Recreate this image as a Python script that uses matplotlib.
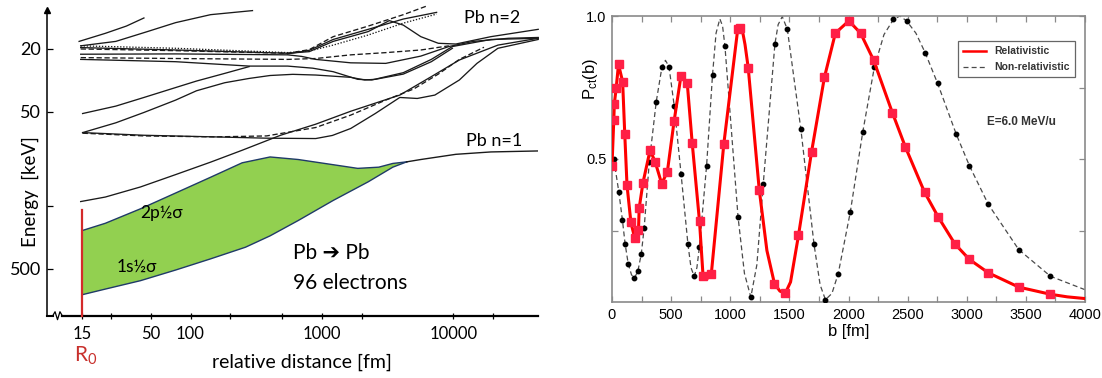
import numpy as np
import matplotlib
matplotlib.use("Agg")
import matplotlib.pyplot as plt
from matplotlib.lines import Line2D
from matplotlib.ticker import FixedLocator, NullLocator, MultipleLocator

plt.rcParams['font.family'] = ['Liberation Sans', 'DejaVu Sans']
plt.rcParams['mathtext.default'] = 'regular'
LEFT_FONT = ['Lato', 'DejaVu Sans']

# ---------------- left panel: Pb -> Pb correlation diagram ----------------
# distance in fm, binding energy in keV
green_top_fm  = [15, 22.5, 41.6, 77, 142, 247, 403, 659, 1217, 1871, 2704, 3458, 4416]
green_top_kev = [286, 257, 208, 165, 131, 106, 97.3, 101, 109, 115, 113, 107, 104.5]
green_bot_fm  = [15, 22.5, 41.6, 77, 142, 262, 403, 659, 1217, 2249, 3458, 4416]
green_bot_kev = [732, 674, 596, 510, 433, 365, 309, 247, 184, 140, 113, 104.5]
n1_fm  = [4416, 5649, 10440, 19280, 44160]
n1_kev = [104.5, 101, 93.6, 90.4, 89.1]

t1_fm,  t1_kev  = [14.2, 22.5, 32.5, 44.2], [17.9, 15.9, 14.3, 12.7]
t2_fm,  t2_kev  = [14.6, 27.0, 47.0, 77, 142, 296], [19.1, 17.9, 15.5, 13.6, 12.1, 11.4]
u1_fm,  u1_kev  = [14.6, 77, 548, 800, 1217, 2249, 4156, 7447], [19.1, 19.8, 21.1, 20.6, 18.9, 16.3, 13.7, 12.0]
u2_fm  = [14.6, 77, 548, 800, 1217, 2249, 3251, 4156, 5649, 7674, 10440, 19280, 44160]
u2_kev = [19.6, 20.3, 21.3, 20.8, 17.9, 15.5, 13.2, 14.1, 16.7, 18.4, 18.6, 16.7, 15.0]
u3_fm,  u3_kev  = [14.6, 77, 548, 800, 1217, 2249, 4156, 6383], [20.0, 20.5, 21.3, 20.2, 16.7, 14.3, 12.1, 10.6]
u4_fm,  u4_kev  = [548, 800, 1217, 2249, 4156, 7447], [21.5, 20.4, 17.4, 15.0, 12.9, 11.7]
u5_fm  = [14.6, 77, 548, 700, 896, 1655, 3055, 5649, 9230, 14190, 26220, 44160]
u5_kev = [21.6, 21.5, 21.8, 22.3, 23.3, 24.5, 24.7, 22.2, 19.3, 17.9, 17.1, 16.9]
u6_fm  = [14.6, 77, 548, 896, 1655, 3055, 5649, 9230]
u6_kev = [22.7, 23.0, 23.3, 23.0, 21.8, 21.1, 20.3, 19.1]
u7_fm  = [14.6, 77, 279, 548, 850, 1217, 1871, 2392, 4156, 6790, 9820, 19280, 44160]
u7_kev = [23.3, 24.1, 25.7, 25.7, 26.5, 27.9, 31.2, 31.5, 28.3, 23.3, 19.3, 17.4, 17.1]
l1_fm,  l1_kev  = [15.1, 27.0, 44.2, 77, 111, 182, 279], [51.5, 46.2, 40.7, 35.2, 32.0, 28.6, 25.9]
b_fm   = [15.1, 27.0, 44.2, 77, 111, 182, 279, 403, 600, 896, 1655, 2115, 2543, 4156, 6790, 9820]
b_kev  = [68.1, 59.0, 50.7, 42.3, 36.9, 32.8, 30.8, 29.5, 29.0, 29.3, 30.3, 31.5, 31.2, 28.9, 24.1, 19.8]
c_fm   = [15.1, 44.2, 151, 379, 896, 1200, 1655, 2543, 3908, 5309, 7220, 11100, 15100, 21800, 44160]
c_kev  = [68.1, 70.8, 72.5, 73.9, 74.3, 71.0, 64.1, 51.5, 40.7, 41.3, 39.3, 31.5, 24.7, 19.8, 17.4]
cd_fm  = [15.1, 44.2, 151, 379, 896, 1655, 3055, 5000, 7674, 11100, 17070]
cd_kev = [68.7, 71.5, 72.5, 71.5, 63.2, 52.7, 42.3, 35.9, 28.9, 23.3, 19.5]
g2_fm  = [14.6, 22.5, 41.6, 77, 142, 247, 484, 896, 1655, 3908, 6790, 11100, 21800, 44160]
g2_kev = [187, 175, 151, 126, 105, 88.2, 70.8, 60.2, 49.8, 39.3, 30.0, 23.5, 18.9, 17.1]

x_tick_fm = [15, 25, 50, 100, 200, 500, 1000, 2000, 10000, 20000]
x_tick_lab = ['15', '', '50', '100', '', '', '1000', '', '10000', '']
y_tick_kev = [20, 50, 200, 500]
y_tick_lab = ['20', '50', '', '500']

# ---------------- right panel: charge transfer probability ----------------
rel_b_sq = [0, 15, 20, 35, 55, 90, 108, 127, 160, 192, 224, 230, 262, 322, 365, 420, 468,
            525, 583, 636, 678, 740, 770, 840, 946, 1063, 1085, 1152, 1245, 1374, 1466,
            1577, 1688, 1796, 1889, 2003, 2102, 2213, 2371, 2482, 2643, 2759, 2900, 3022,
            3183, 3440, 3708]
rel_p_sq = [0.476, 0.636, 0.694, 0.747, 0.831, 0.770, 0.586, 0.408, 0.278, 0.224, 0.253,
            0.329, 0.417, 0.531, 0.490, 0.414, 0.455, 0.632, 0.790, 0.767, 0.557, 0.282,
            0.091, 0.099, 0.554, 0.953, 0.957, 0.819, 0.393, 0.064, 0.031, 0.233, 0.526,
            0.785, 0.940, 0.983, 0.940, 0.845, 0.662, 0.541, 0.384, 0.297, 0.203, 0.149,
            0.102, 0.052, 0.027]
rel_b_extra = [805, 1100, 1125, 1310, 1420, 1510, 3850, 4000]
rel_p_extra = [0.082, 0.955, 0.900, 0.180, 0.038, 0.070, 0.018, 0.012]

nrel_b_dot = [15, 58, 88, 111, 137, 190, 219, 248, 272, 315, 374, 423, 482, 526, 584, 642,
              695, 739, 800, 850, 955, 1066, 1174, 1279, 1378, 1483, 1597, 1708, 1805, 1913,
              2015, 2120, 2219, 2380, 2491, 2648, 2754, 2911, 3022, 3183, 3440, 3708]
nrel_p_dot = [0.500, 0.384, 0.287, 0.203, 0.134, 0.084, 0.108, 0.169, 0.259, 0.488, 0.700,
              0.823, 0.823, 0.686, 0.448, 0.203, 0.090, 0.192, 0.477, 0.794, 0.895, 0.297,
              0.017, 0.413, 0.903, 0.953, 0.605, 0.203, 0.008, 0.099, 0.314, 0.593, 0.822,
              0.988, 0.983, 0.872, 0.764, 0.587, 0.477, 0.341, 0.183, 0.090]
nrel_b_extra = [165, 452, 668, 718, 880, 912, 935, 1120, 1225, 1405, 1440, 1760, 1860,
                2300, 2435, 2570, 4000]
nrel_p_extra = [0.095, 0.845, 0.120, 0.120, 0.940, 0.990, 0.965, 0.100, 0.130, 0.970,
                0.998, 0.060, 0.030, 0.935, 1.000, 0.940, 0.043]


def merged(b1, p1, b2, p2):
    b = np.array(b1 + b2, dtype=float)
    p = np.array(p1 + p2, dtype=float)
    order = np.argsort(b, kind='stable')
    return b[order], p[order]


W, H = 1102, 378


def px_box(x0, y0, x1, y1):
    return [x0 / W, 1 - y1 / H, (x1 - x0) / W, (y1 - y0) / H]


fig = plt.figure(figsize=(W / 100, H / 100), dpi=100)
fig.patch.set_facecolor('white')

# ======================= left =======================
axl = fig.add_axes(px_box(46.7, 10, 538, 316))
axl.set_xscale('log')
axl.set_yscale('log')
axl.set_xlim(8.05, 44000)
axl.set_ylim(1000, 11.3)
for s in ['top', 'right', 'bottom']:
    axl.spines[s].set_visible(False)
axl.spines['left'].set_linewidth(1.1)

axl.xaxis.set_major_locator(FixedLocator(x_tick_fm))
axl.xaxis.set_minor_locator(NullLocator())
axl.set_xticklabels(x_tick_lab)
axl.yaxis.set_major_locator(FixedLocator(y_tick_kev))
axl.yaxis.set_minor_locator(NullLocator())
axl.set_yticklabels(y_tick_lab)
axl.tick_params(axis='x', direction='inout', length=5, width=0.9, pad=5, labelsize=12)
axl.tick_params(axis='y', direction='in', length=4, width=0.9, pad=4, labelsize=13)
for lbl in axl.get_xticklabels() + axl.get_yticklabels():
    lbl.set_fontfamily(LEFT_FONT)

# bottom axis with a break near the origin, arrow on the energy axis
axl.plot([0, 0.012], [0, 0], transform=axl.transAxes, color='k', lw=1.5, clip_on=False)
axl.plot([0.012, 0.017, 0.022, 0.027, 0.032], [0, 0.014, -0.012, 0.014, 0],
         transform=axl.transAxes, color='k', lw=0.9, clip_on=False)
axl.plot([0.032, 1], [0, 0], transform=axl.transAxes, color='k', lw=1.6, clip_on=False)
axl.plot([0], [1], marker='^', ms=4.5, color='k', transform=axl.transAxes, clip_on=False)

# green region between 1s1/2 sigma and 2p1/2 sigma
axl.fill(green_top_fm + green_bot_fm[::-1], green_top_kev + green_bot_kev[::-1],
         color='#92d050', lw=0, zorder=1)
axl.plot(green_top_fm, green_top_kev, color='#1f3a68', lw=1.0, zorder=3)
axl.plot(green_bot_fm, green_bot_kev, color='#1f3a68', lw=1.0, zorder=3)
axl.plot(n1_fm, n1_kev, color='#1a1a1a', lw=1.0, zorder=3)
axl.plot([15, 15], [213, 1000], color='#d42a2a', lw=1.6, zorder=4, clip_on=False)

solid = '-'
dashed = (0, (4, 2))
dotted = (0, (1, 1.3))
levels = [
    (t1_fm, t1_kev, solid), (t2_fm, t2_kev, solid), (u1_fm, u1_kev, dotted),
    (u2_fm, u2_kev, solid), (u3_fm, u3_kev, dashed), (u4_fm, u4_kev, solid),
    (u5_fm, u5_kev, solid), (u6_fm, u6_kev, dashed), (u7_fm, u7_kev, solid),
    (l1_fm, l1_kev, solid), (b_fm, b_kev, solid), (c_fm, c_kev, solid),
    (cd_fm, cd_kev, dashed), (g2_fm, g2_kev, solid),
]
for xs, ys, ls in levels:
    axl.plot(xs, ys, color='#1a1a1a', lw=0.95, ls=ls, clip_on=False, zorder=2,
             solid_joinstyle='round')

axl.text(60.7, 221, '2p½σ', fontsize=12.5, family=LEFT_FONT, ha='center', va='center')
axl.text(39.2, 488, '1s½σ', fontsize=12.5, family=LEFT_FONT, ha='center', va='center')
axl.text(601, 397, 'Pb ➔ Pb', fontsize=15, family=LEFT_FONT, ha='left', va='center')
axl.text(601, 617, '96 electrons', fontsize=15, family=LEFT_FONT, ha='left', va='center')
axl.text(19630, 12.7, 'Pb n=2', fontsize=13, family=LEFT_FONT, ha='center', va='center')
axl.text(20300, 76.9, 'Pb n=1', fontsize=13, family=LEFT_FONT, ha='center', va='center')

fig.text(30 / W, 1 - 192 / H, 'Energy  [keV]', rotation=90, fontsize=13.5,
         family=LEFT_FONT, ha='center', va='center')
fig.text(302 / W, 1 - 362 / H, 'relative distance [fm]', fontsize=14,
         family=LEFT_FONT, ha='center', va='center')
fig.text(86 / W, 1 - 356 / H, 'R$_0$', fontsize=15, color='#c8302c',
         family=LEFT_FONT, ha='center', va='center')

# ======================= right =======================
axr = fig.add_axes(px_box(612, 16, 1085, 302))
axr.set_xlim(0, 4000)
axr.set_ylim(0, 1.0)
for s in axr.spines.values():
    s.set_color('#8a8a8a')
    s.set_linewidth(1.2)
axr.xaxis.set_major_locator(MultipleLocator(500))
axr.xaxis.set_minor_locator(MultipleLocator(250))
axr.yaxis.set_major_locator(FixedLocator([0.5, 1.0]))
axr.yaxis.set_minor_locator(FixedLocator([0.25, 0.75]))
axr.yaxis.set_major_formatter(matplotlib.ticker.FormatStrFormatter('%.1f'))
axr.tick_params(which='both', direction='in', top=True, right=True, length=4,
                width=0.9, color='#8a8a8a', labelsize=10.5, pad=4)

nb, npv = merged(nrel_b_dot, nrel_p_dot, nrel_b_extra, nrel_p_extra)
axr.plot(nb, npv, color='#4a4a4a', lw=0.9, ls=(0, (4, 2.5)), zorder=2)
axr.plot(nrel_b_dot, nrel_p_dot, ls='none', marker='o', ms=3.2, color='black', zorder=3)

rb, rp = merged(rel_b_sq, rel_p_sq, rel_b_extra, rel_p_extra)
axr.plot(rb, rp, color='#ff0000', lw=2.2, zorder=4, solid_joinstyle='round')
axr.plot(rel_b_sq, rel_p_sq, ls='none', marker='s', ms=5.5, color='#ff1f45',
         mec='#ff1f45', zorder=5)

axr.set_xlabel('b [fm]', fontsize=12, labelpad=2)
axr.set_ylabel('P$_{ct}$(b)', fontsize=12)
axr.yaxis.set_label_coords(-0.025, 0.78)

handles = [Line2D([], [], color='#ff0000', lw=1.8),
           Line2D([], [], color='#4a4a4a', lw=0.9, ls=(0, (4, 2.5)))]
leg = axr.legend(handles, ['Relativistic', 'Non-relativistic'],
                 loc='upper left', bbox_to_anchor=(0.72, 0.93),
                 fancybox=False, framealpha=1, edgecolor='#666666',
                 prop={'size': 7.5, 'weight': 'bold'}, handlelength=2.2,
                 borderpad=0.5, labelspacing=0.55, handletextpad=0.8)
leg.get_frame().set_linewidth(0.9)
for t in leg.get_texts():
    t.set_color('#333333')

axr.text(0.865, 0.63, 'E=6.0 MeV/u', transform=axr.transAxes, fontsize=8.5,
         weight='bold', color='#333333', ha='center', va='center')

fig.savefig('out.png', dpi=100, facecolor='white')
